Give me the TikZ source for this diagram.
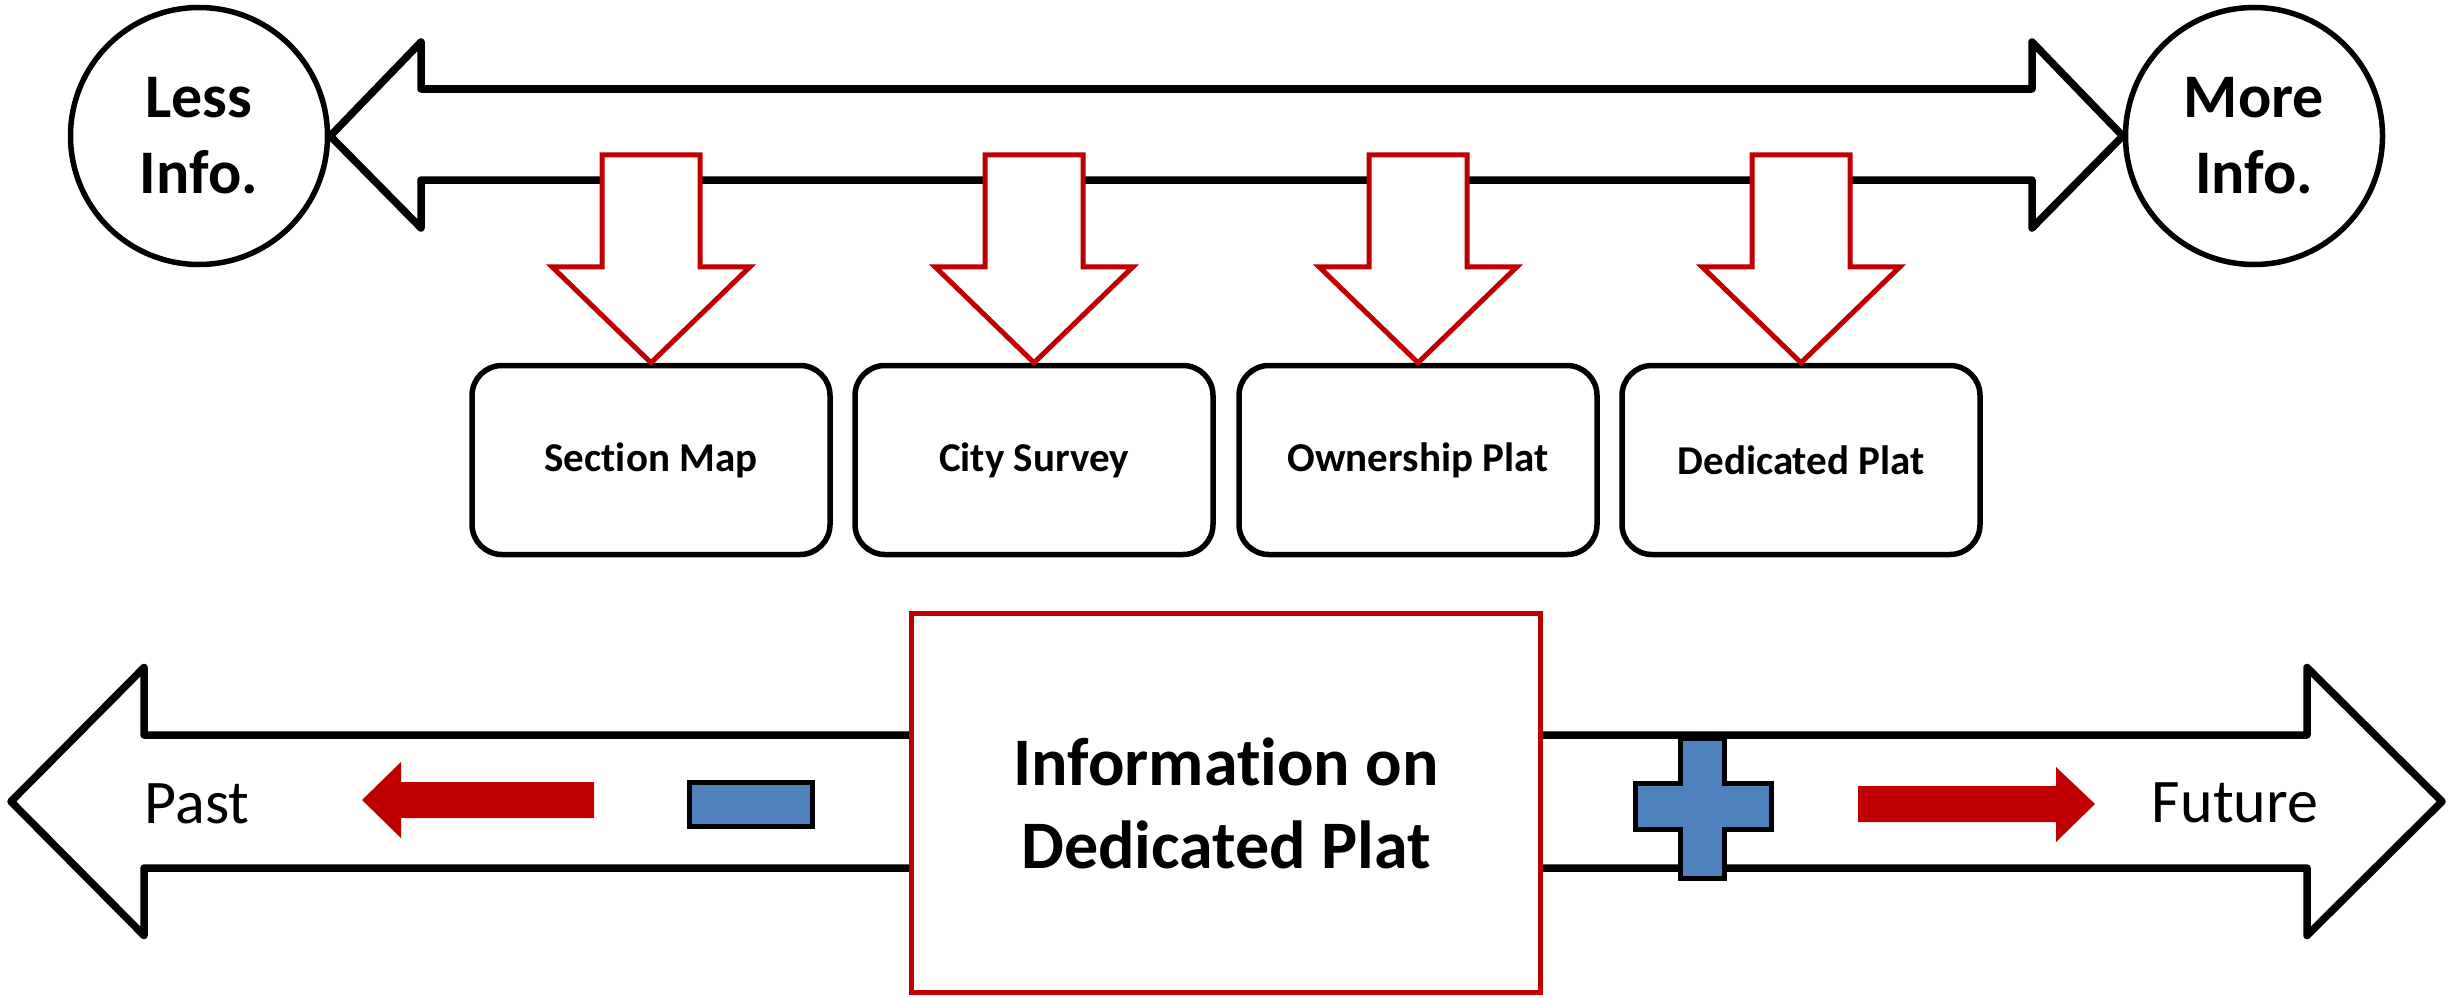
\documentclass[tikz,border=0pt]{standalone}
\usepackage{fontspec}
\setmainfont[Ligatures=NoCommon]{Carlito}
\usetikzlibrary{calc}
\definecolor{dred}{RGB}{192,0,0}
\definecolor{officeblue}{RGB}{79,129,189}
\begin{document}
\begin{tikzpicture}[x=1pt,y=-1pt,
  blockarrow/.style={draw=black,line width=7.5pt,line join=round,fill=white},
  pointer/.style={draw=dred,line width=5pt,line join=miter,fill=white},
  infocircle/.style={circle,draw=black,line width=5.5pt,fill=white,minimum size=257pt,inner sep=0pt,
    align=center,font=\fontsize{62pt}{76pt}\selectfont\bfseries},
  mapbox/.style={draw=black,line width=5.5pt,rounded corners=30pt,fill=white,
    minimum width=358pt,minimum height=189pt,inner sep=0pt,font=\fontsize{41pt}{48pt}\selectfont\bfseries},
  centerbox/.style={draw=dred,line width=5pt,fill=white,minimum width=629pt,minimum height=379pt,
    inner sep=0pt,align=center,font=\fontsize{68pt}{83pt}\selectfont\bfseries},
  timelabel/.style={anchor=base,inner sep=0pt,font=\fontsize{62pt}{74pt}\selectfont},
  sign/.style={draw=black,line width=5pt,fill=officeblue},
  redarrow/.style={fill=dred,draw=none}]
\useasboundingbox (0,0) rectangle (2453,998);

% information scale
\node[infocircle] (less) at (199,136) {Less\\Info.};
\node[infocircle] (more) at (2254,136) {More\\Info.};
\draw[blockarrow] (less.east) -- (421,42) -- (421,89) -- (2032,89) -- (2032,42) -- (more.west)
  -- (2032,228) -- (2032,180) -- (421,180) -- (421,228) -- cycle;

% map types
\node[mapbox] (sec)  at (651,460)  {Section Map};
\node[mapbox] (city) at (1034,460) {City Survey};
\node[mapbox] (own)  at (1418,460) {Ownership Plat};
\node[mapbox] (ded)  at (1801,460) {Dedicated Plat};
\foreach \b in {sec,city,own,ded}{
  \draw[pointer] (\b.north) -- ++(-99,-96) -- ++(50,0) -- ++(0,-112) -- ++(98,0)
    -- ++(0,112) -- ++(50,0) -- cycle;
}

% time line
\draw[blockarrow] (11,801.5) -- (144,667.5) -- (144,735) -- (2307,735) -- (2307,667.5) -- (2442,801.5)
  -- (2307,935.5) -- (2307,868) -- (144,868) -- (144,935.5) -- cycle;
\node[centerbox] (info) at (1226,803) {Information on\\Dedicated Plat};

\node[timelabel] (past) at (197,823) {Past};
\node[timelabel] (future) at (2235,822) {Future};

\draw[redarrow] (362,800) -- (401,762) -- (401,782) -- (594,782) -- (594,818) -- (401,818) -- (401,838) -- cycle;
\draw[redarrow] (2095,804) -- (2056,767) -- (2056,786) -- (1858,786) -- (1858,822) -- (2056,822) -- (2056,842) -- cycle;

% minus and plus signs
\node[sign,minimum width=123pt,minimum height=44pt,inner sep=0pt] (minus) at (751,804.5) {};
\draw[sign] (1680,738) -- (1724,738) -- (1724,783) -- (1771,783) -- (1771,829) -- (1724,829)
  -- (1724,878) -- (1680,878) -- (1680,829) -- (1635,829) -- (1635,783) -- (1680,783) -- cycle;
\end{tikzpicture}
\end{document}
